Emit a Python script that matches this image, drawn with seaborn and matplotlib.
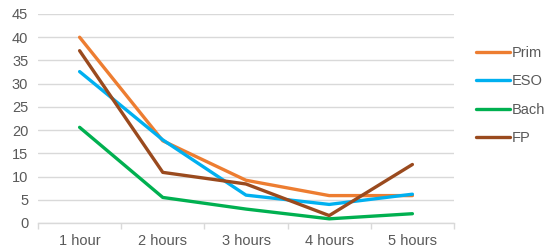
import matplotlib
matplotlib.use("Agg")
import matplotlib.pyplot as plt
import seaborn as sns
import pandas as pd
from matplotlib.ticker import FixedLocator

categories = ["1 hour", "2 hours", "3 hours", "4 hours", "5 hours"]
prim = [40, 17.7, 9.2, 5.9, 5.9]
eso = [32.6, 17.9, 6.0, 4.0, 6.2]
bach = [20.6, 5.5, 3.0, 0.9, 2.0]
fp = [37.1, 10.9, 8.4, 1.6, 12.6]
series_names = ["Prim", "ESO", "Bach", "FP"]
colors = ["#ED7D31", "#00B0F0", "#00B050", "#9A4A1E"]

rows = []
for name, vals in zip(series_names, [prim, eso, bach, fp]):
    for c, v in zip(categories, vals):
        rows.append({"cat": c, "value": v, "series": name})
df = pd.DataFrame(rows)

sns.set_theme(style="white")
plt.rcParams['font.family'] = ['Liberation Sans', 'DejaVu Sans']

fig = plt.figure(figsize=(5.5, 2.52), dpi=100)
ax = fig.add_axes([38/550, 29/252, 416/550, 209/252])

sns.lineplot(data=df, x="cat", y="value", hue="series", hue_order=series_names,
             palette=colors, linewidth=2.4, ax=ax, sort=False)

ax.set_xlim(-0.5, 4.5)
ax.set_ylim(0, 45)
ax.set_yticks(range(0, 46, 5))
ax.yaxis.grid(True, color="#D9D9D9", linewidth=1.0)
ax.set_axisbelow(True)
for s in ["top", "right", "left"]:
    ax.spines[s].set_visible(False)
ax.spines["bottom"].set_color("#D9D9D9")
ax.spines["bottom"].set_linewidth(1.0)
ax.set_xlabel("")
ax.set_ylabel("")
ax.set_xticks(range(len(categories)))
ax.set_xticklabels(categories)
ax.xaxis.set_minor_locator(FixedLocator([i - 0.5 for i in range(len(categories) + 1)]))
ax.tick_params(axis="x", which="major", length=0, pad=8, labelsize=10.5, labelcolor="#595959")
ax.tick_params(axis="x", which="minor", length=4, color="#D9D9D9", width=1, direction="out", bottom=True)
ax.tick_params(axis="y", length=0, pad=7, labelsize=10.5, labelcolor="#595959")

handles, labels = ax.get_legend_handles_labels()
leg = ax.legend(handles, labels, loc="upper left", bbox_to_anchor=(476/550, 1 - 46/252),
                bbox_transform=fig.transFigure, frameon=False, fontsize=10.5,
                handlelength=2.3, handletextpad=0.15, labelspacing=0.99,
                borderpad=0, borderaxespad=0, labelcolor="#595959")
for line in leg.get_lines():
    line.set_linewidth(2.4)

fig.savefig("out.png", dpi=100)
